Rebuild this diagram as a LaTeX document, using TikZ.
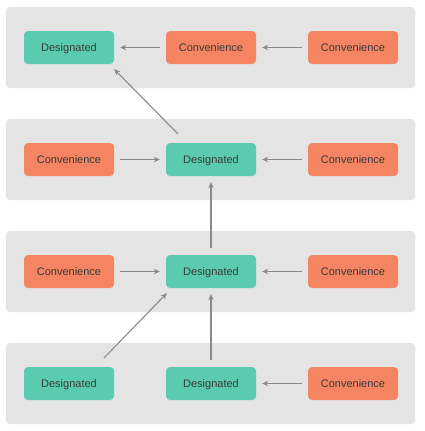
\documentclass[tikz,border=0pt]{standalone}
\usepackage{fontspec}
\setmainfont{Liberation Sans}
\usetikzlibrary{arrows.meta}
\definecolor{bandgray}{HTML}{E4E4E4}
\definecolor{desig}{HTML}{5ACBB0}
\definecolor{conv}{HTML}{F58562}
\definecolor{arrowgray}{HTML}{8A8A8A}
\definecolor{txt}{HTML}{3A3A3A}
\begin{document}
\begin{tikzpicture}[x=1pt,y=-1pt,
  band/.style={fill=bandgray,rounded corners=4pt},
  box/.style={minimum width=90pt,minimum height=33pt,rounded corners=4pt,text=txt,font=\fontsize{11}{12}\selectfont,inner sep=0pt,text height=7.9pt,text depth=0pt},
  dbox/.style={box,fill=desig},
  cbox/.style={box,fill=conv},
  arr/.style={draw=arrowgray,line width=1.1pt,-{Stealth[length=6pt,width=5.5pt]}}
]
\useasboundingbox (0,0) rectangle (424,431);
\fill[white] (0,0) rectangle (424,431);
\foreach \y in {47,159,271,383}{
  \fill[band] (6,\y-40) rectangle (415,\y+41);
}
% row 1
\node[dbox] (d1) at (69,47.5) {Designated};
\node[cbox] (c1a) at (211,47.5) {Convenience};
\node[cbox] (c1b) at (353,47.5) {Convenience};
% row 2
\node[cbox] (c2a) at (69,159.5) {Convenience};
\node[dbox] (d2) at (211,159.5) {Designated};
\node[cbox] (c2b) at (353,159.5) {Convenience};
% row 3
\node[cbox] (c3a) at (69,271.5) {Convenience};
\node[dbox] (d3) at (211,271.5) {Designated};
\node[cbox] (c3b) at (353,271.5) {Convenience};
% row 4
\node[dbox] (d4a) at (69,383.5) {Designated};
\node[dbox] (d4b) at (211,383.5) {Designated};
\node[cbox] (c4) at (353,383.5) {Convenience};
% horizontal arrows
\foreach \a/\b in {c1a/d1,c1b/c1a,c2b/d2,c3b/d3,c4/d4b}{
  \draw[arr] ([xshift=-6pt]\a.west) -- ([xshift=6pt]\b.east);
}
\foreach \a/\b in {c2a/d2,c3a/d3}{
  \draw[arr] ([xshift=6pt]\a.east) -- ([xshift=-6pt]\b.west);
}
% vertical arrows
\draw[arr] ([yshift=7pt]d3.north) -- ([yshift=-6pt]d2.south);
\draw[arr] ([yshift=7pt]d4b.north) -- ([yshift=-6pt]d3.south);
% diagonal arrows
\coordinate (s1) at (178,134);
\coordinate (s2) at (104,358);
\draw[arr] (s1) -- ([shift={(0pt,-5pt)}]d1.south east);
\draw[arr] (s2) -- ([shift={(1pt,-5pt)}]d3.south west);
\end{tikzpicture}
\end{document}
